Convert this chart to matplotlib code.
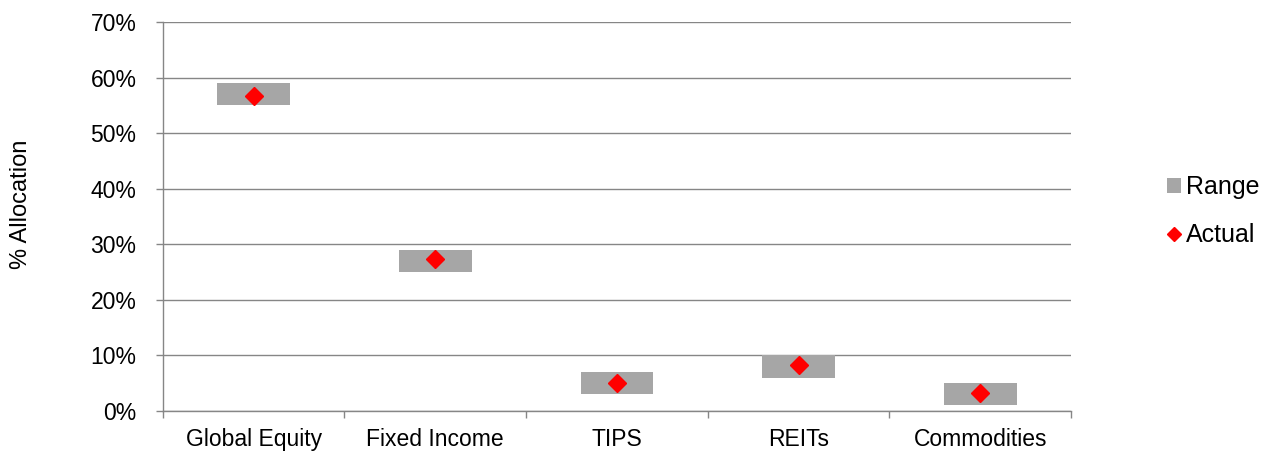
import numpy as np
import matplotlib.pyplot as plt
from matplotlib.ticker import FixedLocator, PercentFormatter

categories = ["Global Equity", "Fixed Income", "TIPS", "REITs", "Commodities"]
range_low = [55, 25, 3, 6, 1]
range_high = [59, 29, 7, 10, 5]
actual = [56.7, 27.3, 5.0, 8.2, 3.2]

plt.rcParams['font.family'] = ['Liberation Sans', 'DejaVu Sans']

fig = plt.figure(figsize=(12.72, 4.54), dpi=100)
ax = fig.add_axes([0.128, 0.0947, 0.714, 0.857])

x = np.arange(len(categories))
heights = np.array(range_high) - np.array(range_low)
bars = ax.bar(x, heights, bottom=range_low, width=0.4, color='#A6A6A6', label='Range', zorder=2)
pts, = ax.plot(x, actual, linestyle='none', marker='D', color='#FF0000', markersize=9,
               label='Actual', zorder=3)

ax.set_xlim(-0.5, len(categories) - 0.5)
ax.set_ylim(0, 70)
ax.set_yticks(np.arange(0, 71, 10))
ax.yaxis.set_major_formatter(PercentFormatter(decimals=0))
ax.yaxis.grid(True, color='#868686', linewidth=1)
ax.set_axisbelow(True)

ax.set_xticks(x)
ax.set_xticklabels(categories)
ax.xaxis.set_minor_locator(FixedLocator(np.arange(-0.5, len(categories), 1)))
ax.tick_params(axis='x', which='major', length=0, labelsize=16.5, pad=12)
ax.tick_params(axis='x', which='minor', length=5, color='#868686', width=1)
ax.tick_params(axis='y', length=5, color='#868686', width=1, labelsize=16.5, pad=14)

for side in ['top', 'right']:
    ax.spines[side].set_visible(False)
for side in ['left', 'bottom']:
    ax.spines[side].set_color('#868686')
    ax.spines[side].set_linewidth(1)

ax.set_ylabel('% Allocation', fontsize=17)
ax.yaxis.set_label_coords(-0.144, 0.532)

fig.legend([bars, pts], ['Range', 'Actual'], loc='center left',
           bbox_to_anchor=(0.908, 0.535), frameon=False, borderpad=0,
           fontsize=18, handlelength=0.55, handleheight=0.55, handletextpad=0.2,
           labelspacing=0.95, markerscale=0.8)

fig.savefig('out.png', dpi=100)
